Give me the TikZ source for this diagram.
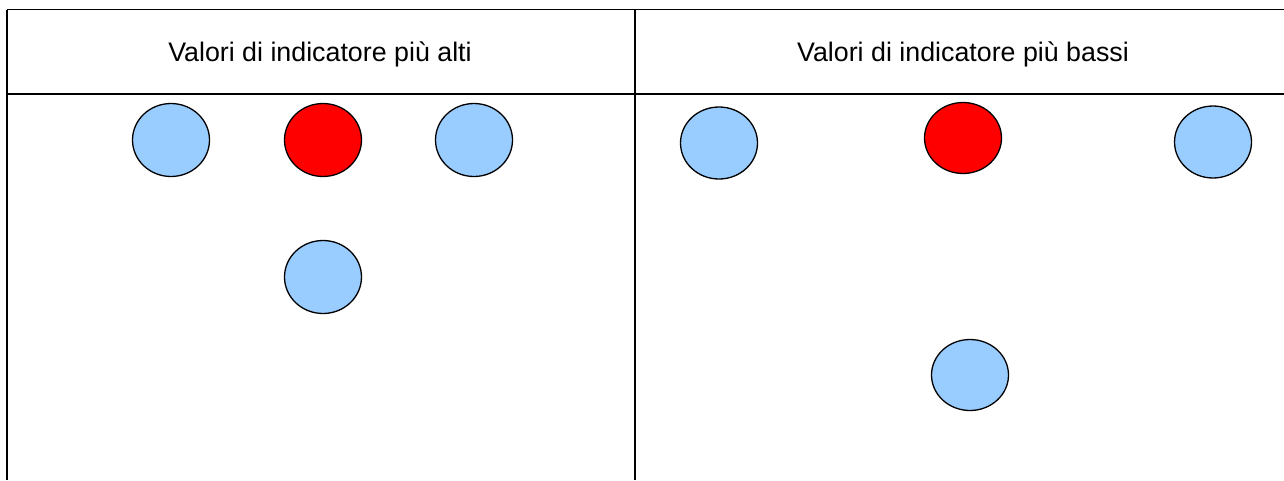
\documentclass[tikz,border=0pt]{standalone}
\usepackage{fontspec}
\setmainfont{Liberation Sans}
\usetikzlibrary{shapes.geometric}
\definecolor{dotblue}{HTML}{99CCFF}
\definecolor{dotred}{HTML}{FF0000}
\begin{document}
\begin{tikzpicture}[x=1pt,y=-1pt,
  rule/.style={line width=1.4pt,black},
  dot/.style={ellipse,draw=black,line width=1.3pt,inner sep=0pt,
    minimum width=77pt,minimum height=73pt},
  bluedot/.style={dot,fill=dotblue},
  reddot/.style={dot,fill=dotred},
  head/.style={font=\fontsize{26.8}{30}\selectfont,inner sep=0pt}]
\useasboundingbox (0,0) rectangle (1284,480);
% table frame
\coordinate (tl) at (7,9.5);
\coordinate (tr) at (1284,9.5);
\coordinate (hl) at (7,94);
\coordinate (hr) at (1284,94);
\coordinate (bl) at (7,480);
\coordinate (tm) at (635,9.5);
\coordinate (bm) at (635,480);
\draw[rule] (tl) -- (tr);
\draw[rule] (hl) -- (hr);
\draw[rule] (tl) -- (bl);
\draw[rule] (tm) -- (bm);
% column headings
\node[head] (hleft) at (320,54) {Valori di indicatore più alti};
\node[head] (hright) at (963,54) {Valori di indicatore più bassi};
% left column
\node[bluedot] (l1) at (171,140) {};
\node[reddot] (l2) at (323,140) {};
\node[bluedot] (l3) at (474,140) {};
\node[bluedot] (l4) at (323,277) {};
% right column
\node[bluedot,minimum height=72pt] (r1) at (719,143) {};
\node[reddot,minimum height=71pt] (r2) at (963,138) {};
\node[bluedot,minimum height=72pt] (r3) at (1213,142) {};
\node[bluedot,minimum height=71pt] (r4) at (970,375) {};
\end{tikzpicture}
\end{document}
